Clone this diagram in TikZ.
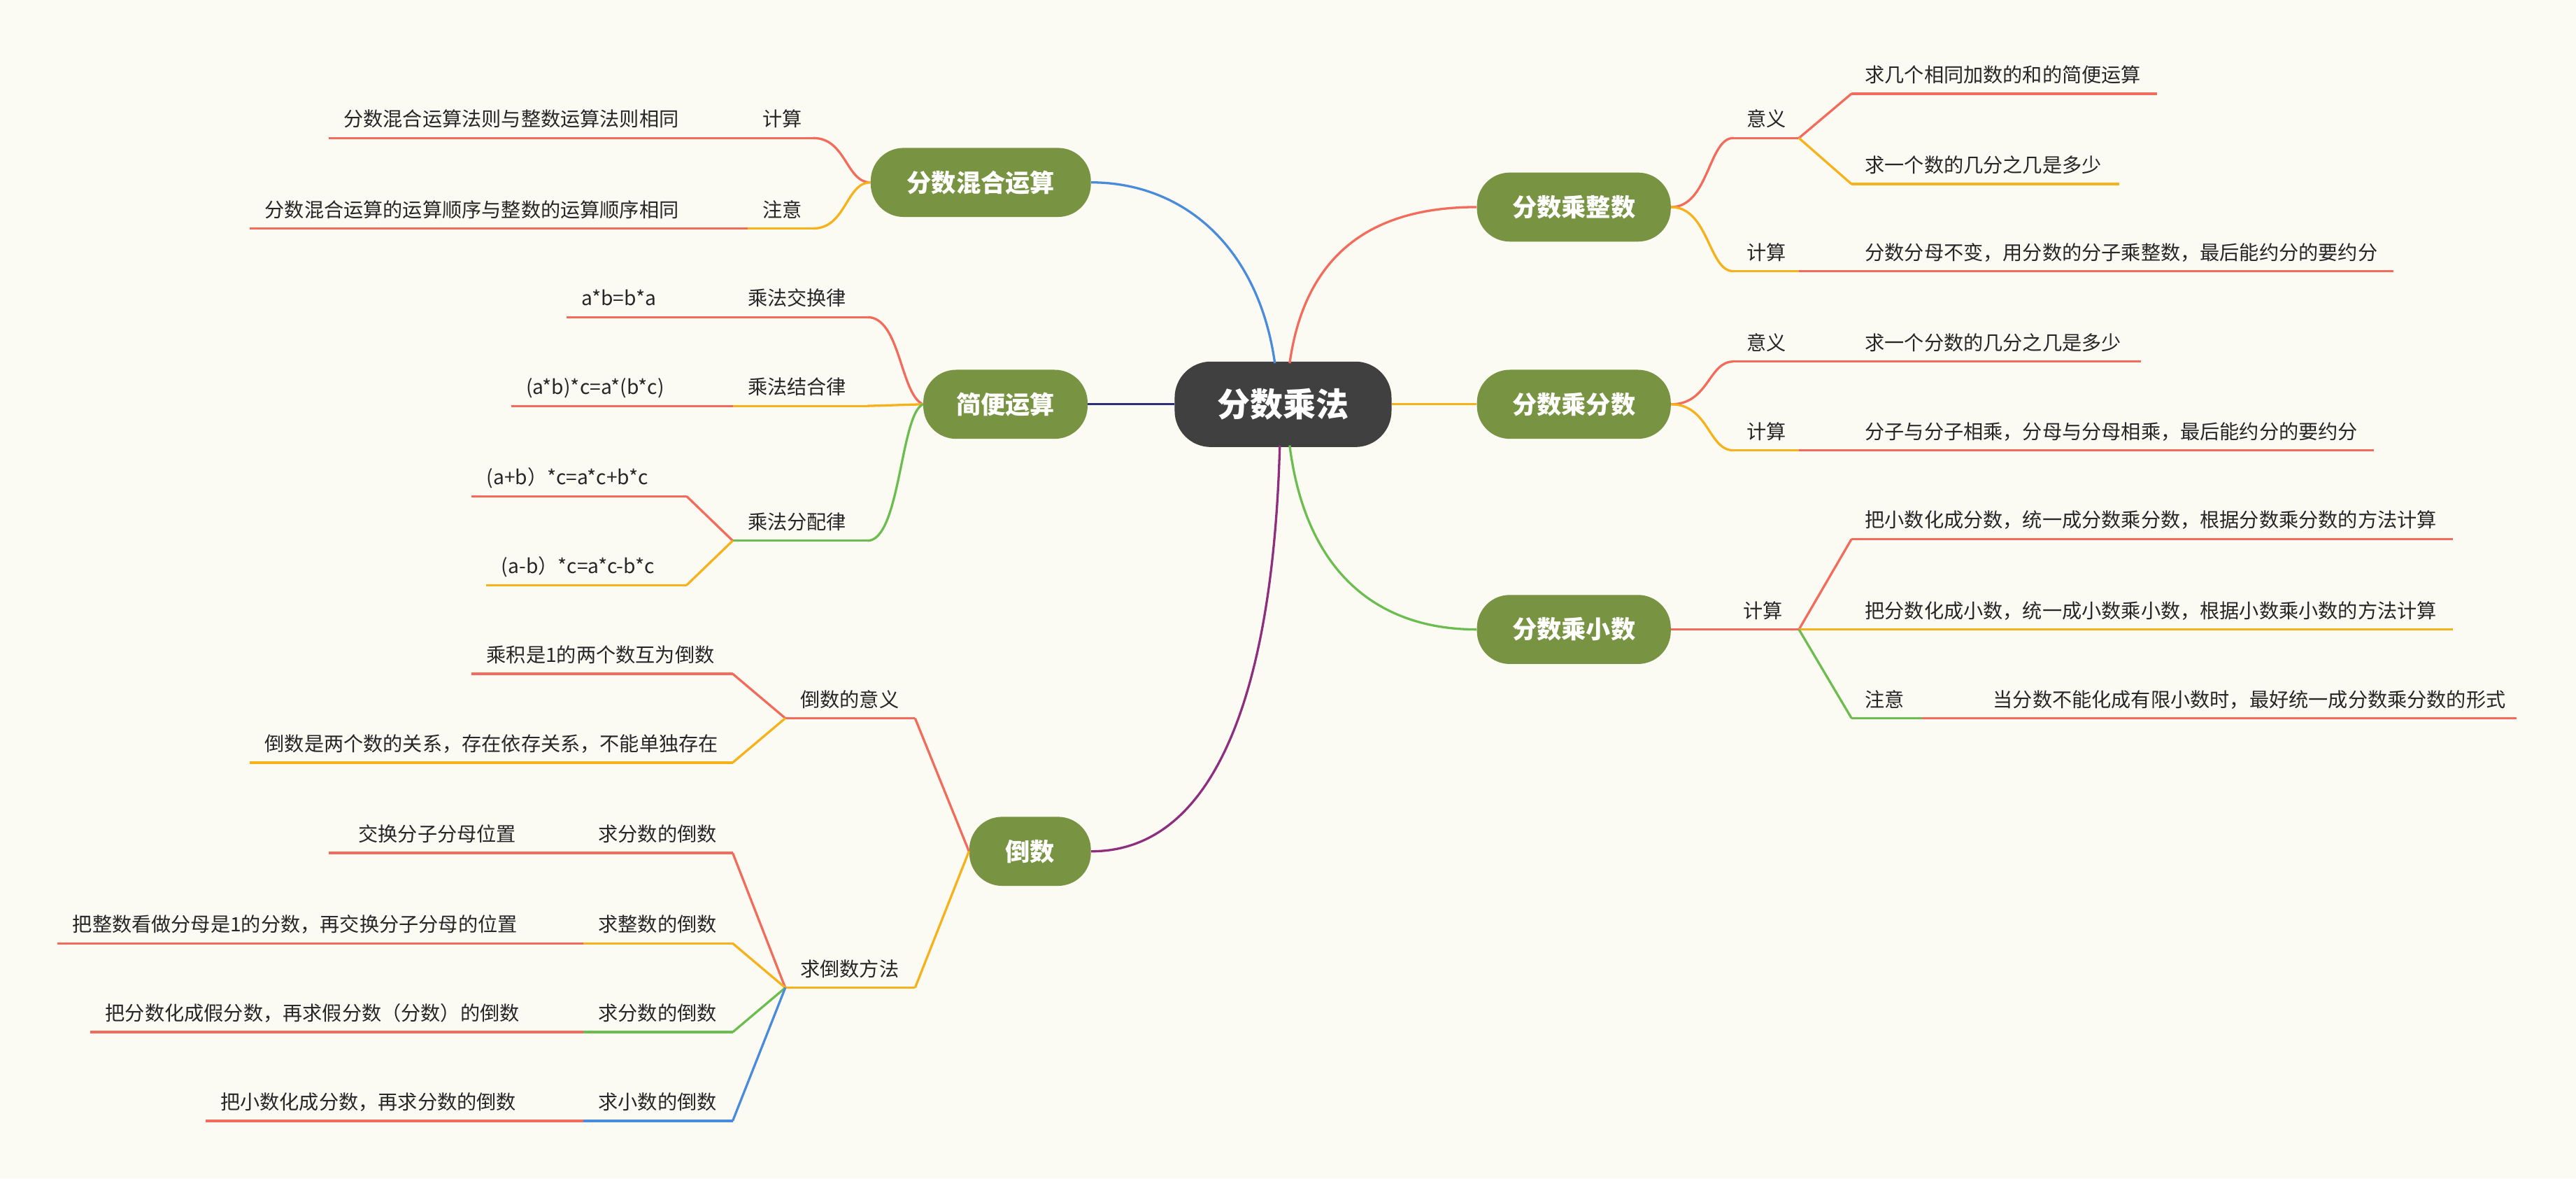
\documentclass[tikz,border=0pt]{standalone}
\usepackage{fontspec}
\setmainfont{Noto Sans CJK SC}
\definecolor{bg}{HTML}{FBFAF3}
\definecolor{cR}{HTML}{F26B5B}
\definecolor{cO}{HTML}{F5B21A}
\definecolor{cG}{HTML}{6CBD4F}
\definecolor{cB}{HTML}{4A8BDB}
\definecolor{cN}{HTML}{2E2E7A}
\definecolor{cP}{HTML}{8E2F7E}
\definecolor{gn}{HTML}{789442}
\definecolor{dk}{HTML}{404040}
\newcommand\Lr[6]{%
  \coordinate (#1-l) at (#2,#4); \coordinate (#1-r) at (#3,#4);
  \draw[#5,line width=1.4pt] (#1-l) -- (#1-r);
  \node[lbl,anchor=base west] (#1) at (#2+8,#4-7) {#6};}
\newcommand\Ll[6]{%
  \coordinate (#1-l) at (#2,#4); \coordinate (#1-r) at (#3,#4);
  \draw[#5,line width=1.4pt] (#1-l) -- (#1-r);
  \node[lbl,anchor=base west] (#1) at (#2+9,#4-7) {#6};}
\begin{document}
\begin{tikzpicture}[x=1pt,y=-1pt,
  lbl/.style={font=\fontsize{12}{14}\selectfont,text=black!85,inner sep=0pt},
  main/.style={fill=gn,text=white,font=\fontsize{15}{17}\bfseries\selectfont,rounded corners=20pt,minimum height=42pt,minimum width=118pt},
  con/.style={line width=1.4pt}]
\fill[bg] (0,0) rectangle (1568,717);
\useasboundingbox (0,0) rectangle (1568,717);
\node[fill=dk,text=white,font=\fontsize{20}{22}\bfseries\selectfont,rounded corners=22pt,minimum height=52pt,minimum width=132pt] (C) at (781,246) {分数乘法};
\node[main] (A) at (958,126) {分数乘整数};
\node[main] (B) at (958,246) {分数乘分数};
\node[main] (D) at (958,383) {分数乘小数};
\node[main,minimum width=134pt] (L1) at (597,111) {分数混合运算};
\node[main,minimum width=100pt] (L2) at (612,246) {简便运算};
\node[main,minimum width=74pt] (L3) at (627,518) {倒数};
% center connectors
\draw[con,cR] (785,221) .. controls (795,150) and (840,126) .. (A.west);
\draw[con,cO] (C.east) -- (B.west);
\draw[con,cG] (785,271) .. controls (795,350) and (840,383) .. (D.west);
\draw[con,cB] (776,221) .. controls (766,150) and (720,111) .. (L1.east);
\draw[con,cN] (C.west) -- (L2.east);
\draw[con,cP] (779,271) .. controls (775,420) and (740,518) .. (L3.east);
% right: A
\Lr{a1}{1055}{1095}{84}{cR}{意义}
\Lr{a11}{1127}{1313}{57}{cR}{求几个相同加数的和的简便运算}
\Lr{a12}{1127}{1290}{112}{cO}{求一个数的几分之几是多少}
\Lr{a2}{1055}{1095}{165}{cO}{计算}
\Lr{a21}{1127}{1457}{165}{cR}{分数分母不变，用分数的分子乘整数，最后能约分的要约分}
\draw[con,cR] (A.east) .. controls (1040,126) and (1040,84) .. (a1-l);
\draw[con,cO] (A.east) .. controls (1040,126) and (1040,165) .. (a2-l);
\draw[con,cR] (a1-r) -- (a11-l);
\draw[con,cO] (a1-r) -- (a12-l);
\draw[con,cR] (a2-r) -- (a21-l);
% B
\Lr{b1}{1055}{1095}{220}{cR}{意义}
\Lr{b11}{1127}{1303}{220}{cR}{求一个分数的几分之几是多少}
\Lr{b2}{1055}{1095}{274}{cO}{计算}
\Lr{b21}{1127}{1445}{274}{cR}{分子与分子相乘，分母与分母相乘，最后能约分的要约分}
\draw[con,cR] (B.east) .. controls (1040,246) and (1040,220) .. (b1-l);
\draw[con,cO] (B.east) .. controls (1040,246) and (1040,274) .. (b2-l);
\draw[con,cR] (b1-r) -- (b11-l);
\draw[con,cR] (b2-r) -- (b21-l);
% D
\Lr{d1}{1053}{1095}{383}{cR}{计算}
\draw[con,cR] (D.east) -- (d1-l);
\Lr{d11}{1127}{1493}{328}{cR}{把小数化成分数，统一成分数乘分数，根据分数乘分数的方法计算}
\Lr{d12}{1127}{1493}{383}{cO}{把分数化成小数，统一成小数乘小数，根据小数乘小数的方法计算}
\Lr{d13}{1127}{1170}{437}{cG}{注意}
\Lr{d131}{1170}{1532}{437}{cR}{\hspace*{35pt}当分数不能化成有限小数时，最好统一成分数乘分数的形式}
\draw[con,cR] (d1-r) -- (d11-l);
\draw[con,cO] (d1-r) -- (d12-l);
\draw[con,cG] (d1-r) -- (d13-l);
% L1
\Ll{l11}{455}{495}{84}{cR}{计算}
\Ll{l111}{200}{455}{84}{cR}{分数混合运算法则与整数运算法则相同}
\Ll{l12}{455}{495}{139}{cO}{注意}
\Ll{l121}{152}{455}{139}{cR}{分数混合运算的运算顺序与整数的运算顺序相同}
\draw[con,cR] (L1.west) .. controls (515,111) and (515,84) .. (l11-r);
\draw[con,cO] (L1.west) .. controls (515,111) and (515,139) .. (l12-r);
% L2
\Ll{l21}{446}{528}{193}{cR}{乘法交换律}
\Ll{l211}{345}{446}{193}{cR}{a*b=b*a}
\Ll{l22}{446}{528}{247}{cO}{乘法结合律}
\Ll{l221}{311}{446}{247}{cR}{(a*b)*c=a*(b*c)}
\Ll{l23}{446}{528}{329}{cG}{乘法分配律}
\Ll{l231}{287}{418}{302}{cR}{(a+b）*c=a*c+b*c}
\Ll{l232}{296}{418}{356}{cO}{(a-b）*c=a*c-b*c}
\draw[con,cR] (L2.west) .. controls (548,240) and (548,193) .. (l21-r);
\draw[con,cO] (L2.west) -- (l22-r);
\draw[con,cG] (L2.west) .. controls (548,252) and (548,329) .. (l23-r);
\draw[con,cR] (l23-l) -- (l231-r);
\draw[con,cO] (l23-l) -- (l232-r);
% L3
\Ll{l31}{478}{557}{437}{cR}{倒数的意义}
\Ll{l311}{287}{446}{410}{cR}{乘积是1的两个数互为倒数}
\Ll{l312}{152}{446}{464}{cO}{倒数是两个数的关系，存在依存关系，不能单独存在}
\Ll{l32}{478}{557}{601}{cO}{求倒数方法}
\Ll{l321}{355}{446}{519}{cR}{求分数的倒数}
\Ll{l3211}{200}{355}{519}{cR}{\hspace*{9pt}交换分子分母位置}
\Ll{l322}{355}{446}{574}{cO}{求整数的倒数}
\Ll{l3221}{35}{355}{574}{cR}{把整数看做分母是1的分数，再交换分子分母的位置}
\Ll{l323}{355}{446}{628}{cG}{求分数的倒数}
\Ll{l3231}{55}{355}{628}{cR}{把分数化成假分数，再求假分数（分数）的倒数}
\Ll{l324}{355}{446}{682}{cB}{求小数的倒数}
\Ll{l3241}{125}{355}{682}{cR}{把小数化成分数，再求分数的倒数}
\draw[con,cR] (L3.west) -- (l31-r);
\draw[con,cO] (L3.west) -- (l32-r);
\draw[con,cR] (l31-l) -- (l311-r);
\draw[con,cO] (l31-l) -- (l312-r);
\draw[con,cR] (l32-l) -- (l321-r);
\draw[con,cO] (l32-l) -- (l322-r);
\draw[con,cG] (l32-l) -- (l323-r);
\draw[con,cB] (l32-l) -- (l324-r);
\end{tikzpicture}
\end{document}
